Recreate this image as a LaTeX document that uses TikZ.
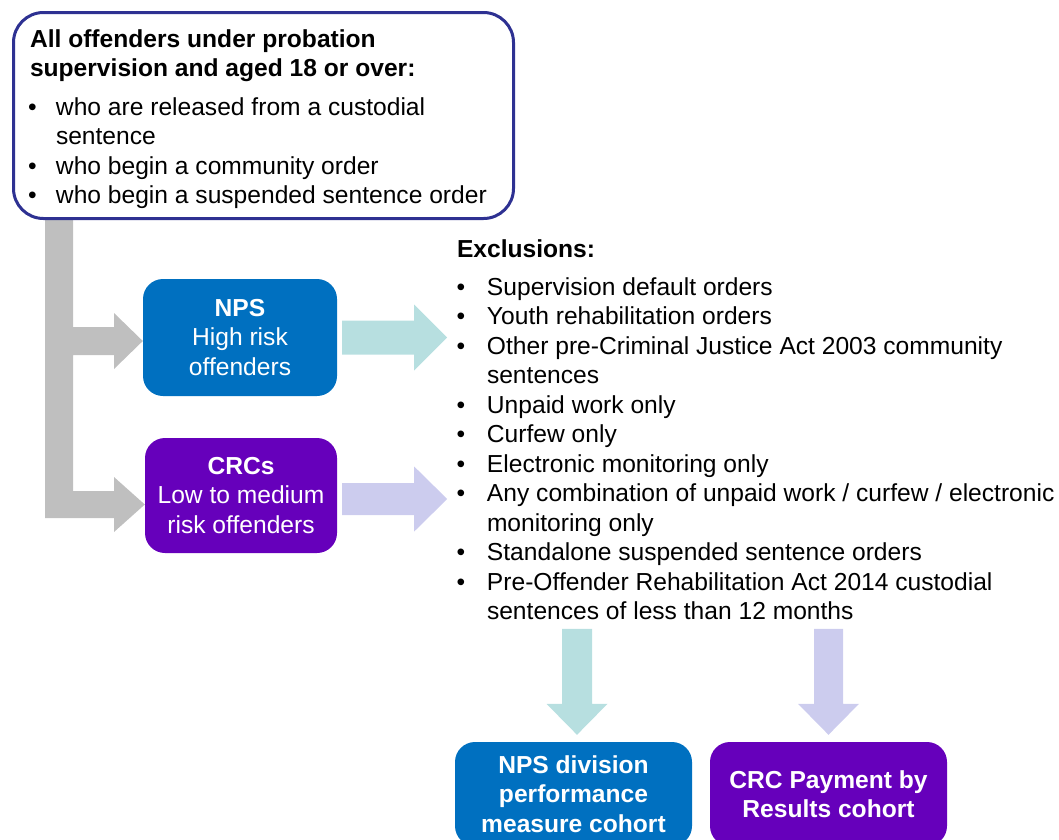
\documentclass[tikz,border=0pt]{standalone}
\usepackage{fontspec}
\setmainfont{Liberation Sans}
\usetikzlibrary{calc}
\definecolor{npsblue}{HTML}{0070C0}
\definecolor{crcpurple}{HTML}{6600BB}
\definecolor{tealarr}{HTML}{B7DFE0}
\definecolor{lavarr}{HTML}{CCCCEE}
\definecolor{grayarr}{HTML}{BFBFBF}
\definecolor{framecol}{HTML}{2E3192}
\begin{document}
\begin{tikzpicture}[x=1pt,y=-1pt,
  txt/.style={inner sep=0pt, outer sep=0pt, font=\fontsize{24.6}{29.5}\selectfont, anchor=base west},
  box/.style={rounded corners=20pt, inner sep=0pt, text=white, align=center, font=\fontsize{24.6}{29.5}\selectfont},
]
\useasboundingbox (0,0) rectangle (1059,839);
\clip (0,0) rectangle (1059,839);

% boxes
\node[box, fill=npsblue, minimum width=194pt, minimum height=117pt] (nps) at (240,337.5) {\textbf{NPS}\\High risk\\offenders};
\node[box, fill=crcpurple, minimum width=192pt, minimum height=115pt] (crc) at (241,495.5) {\textbf{CRCs}\\Low to medium\\risk offenders};
\node[box, fill=npsblue, minimum width=237pt, minimum height=104pt, font=\fontsize{24.6}{29.5}\selectfont\bfseries] (npsd) at (573.5,794) {NPS division\\performance\\measure cohort};
\node[box, fill=crcpurple, minimum width=237pt, minimum height=104pt, font=\fontsize{24.6}{29.5}\selectfont\bfseries] (crcd) at (828.5,794) {CRC Payment by\\Results cohort};

% gray branching arrow
\coordinate (t1) at ($(nps.west)+(0,3.5)$);
\coordinate (t2) at ($(crc.west)+(0,9)$);
\fill[grayarr] (45,212) -- (73,212) -- (73,327) -- (114,327) -- (114,313) -- (t1) -- (114,369) -- (114,355) -- (73,355) -- (73,491) -- (114,491) -- (114,477) -- (t2) -- (114,532) -- (114,518) -- (45,518) -- cycle;

% top box
\node[draw=framecol, fill=white, line width=3pt, rounded corners=30pt, minimum width=500pt, minimum height=206pt, anchor=north west, inner sep=0pt] (all) at (12,11) {};
\node[txt] (alltitle) at (30,47) {\vtop{\bfseries\hbox{All offenders under probation}\hbox{supervision and aged 18 or over:}}};
\node[txt] (alllist) at (28,115) {\vtop{%
\hbox{\makebox[28pt][l]{•}who are released from a custodial}
\hbox{\hspace*{28pt}sentence}
\hbox{\makebox[28pt][l]{•}who begin a community order}
\hbox{\makebox[28pt][l]{•}who begin a suspended sentence order}}};

% right arrows
\fill[tealarr, shift={(nps.east)}] (5,-17) -- (77,-17) -- (77,-33) -- (110,0) -- (77,33) -- (77,17) -- (5,17) -- cycle;
\fill[lavarr, shift={($(crc.east)+(0,3.5)$)}] (5,-16) -- (77,-16) -- (77,-32.5) -- (110,0) -- (77,32.5) -- (77,16) -- (5,16) -- cycle;

% exclusions
\node[txt] (exhead) at (457,257) {\bfseries Exclusions:};
\node[txt] (exlist) at (456.5,295) {\vtop{%
\hbox{\makebox[30.5pt][l]{•}Supervision default orders}
\hbox{\makebox[30.5pt][l]{•}Youth rehabilitation orders}
\hbox{\makebox[30.5pt][l]{•}Other pre-Criminal Justice Act 2003 community}
\hbox{\hspace*{30.5pt}sentences}
\hbox{\makebox[30.5pt][l]{•}Unpaid work only}
\hbox{\makebox[30.5pt][l]{•}Curfew only}
\hbox{\makebox[30.5pt][l]{•}Electronic monitoring only}
\hbox{\makebox[30.5pt][l]{•}Any combination of unpaid work / curfew / electronic}
\hbox{\hspace*{30.5pt}monitoring only}
\hbox{\makebox[30.5pt][l]{•}Standalone suspended sentence orders}
\hbox{\makebox[30.5pt][l]{•}Pre-Offender Rehabilitation Act 2014 custodial}
\hbox{\hspace*{30.5pt}sentences of less than 12 months}}};

% down arrows
\fill[tealarr, shift={($(npsd.north)+(3.5,-7)$)}] (-15,-106) -- (15,-106) -- (15,-31) -- (30.5,-31) -- (0,0) -- (-30.5,-31) -- (-15,-31) -- cycle;
\fill[lavarr, shift={($(crcd.north)+(0,-7)$)}] (-14.5,-106) -- (14.5,-106) -- (14.5,-31) -- (30.5,-31) -- (0,0) -- (-30.5,-31) -- (-14.5,-31) -- cycle;
\end{tikzpicture}
\end{document}
